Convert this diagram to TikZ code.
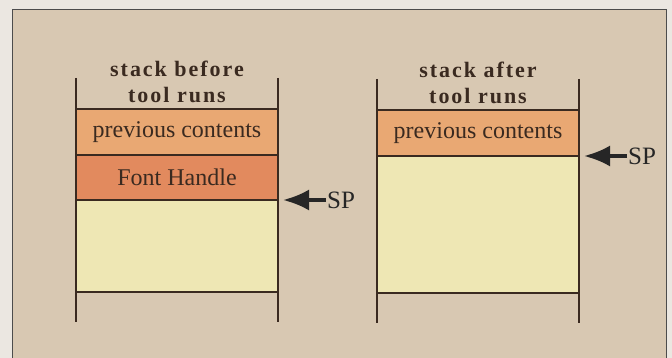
\documentclass[tikz,border=0pt]{standalone}
\usepackage{fontspec}
\setmainfont{Liberation Serif}
\usetikzlibrary{positioning,arrows.meta}
\definecolor{page}{HTML}{EBE7E1}
\definecolor{panel}{HTML}{D8C8B2}
\definecolor{prevc}{HTML}{E9A873}
\definecolor{handlec}{HTML}{E28A5E}
\definecolor{freec}{HTML}{EEE7B4}
\definecolor{ink}{HTML}{3A2A20}
\tikzset{
	cell/.style = {rectangle, draw=ink, line width=1.2pt, minimum width=202pt,
		outer sep=0pt, inner sep=0pt, text=ink, font=\fontsize{24}{26}\selectfont},
	title/.style = {align=center, inner sep=2pt, text=ink,
		font=\bfseries\fontsize{22}{26}\selectfont\addfontfeatures{LetterSpace=9}},
	wall/.style = {draw=ink, line width=1.2pt},
	sparrow/.style = {-{Latex[length=26pt,width=21pt]}, line width=3.5pt,
		draw=black!85, shorten >=5pt},
	splabel/.style = {inner sep=1pt, text=black!85, font=\fontsize{25}{26}\selectfont},
}
\begin{document}
\begin{tikzpicture}[x=1pt,y=-1pt]
	\fill[page] (0,0) rectangle (672,358);
	\useasboundingbox (0,0) rectangle (672,358);
	\filldraw[fill=panel, draw=black!70, line width=1pt] (12,362) -- (12,10) -- (666,10) -- (666,362);
	% stack before the tool runs
	\node (prevA) [cell, fill=prevc, minimum height=46pt, anchor=north] at (177,109) {previous contents};
	\node (fontA) [cell, fill=handlec, minimum height=45pt, below=0pt of prevA] {Font Handle};
	\node (freeA) [cell, fill=freec, minimum height=92pt, below=0pt of fontA] {};
	\node (titleA) [title, above=4pt of prevA] {stack before\\tool runs};
	\draw[wall] ([yshift=31pt]prevA.north west) -- ([yshift=-30pt]freeA.south west);
	\draw[wall] ([yshift=31pt]prevA.north east) -- ([yshift=-30pt]freeA.south east);
	\node (spA) [splabel, right=48pt of fontA.south east, anchor=west] {SP};
	\draw[sparrow] (spA) -- (fontA.south east);
	% stack after the tool runs
	\node (prevB) [cell, fill=prevc, minimum height=46pt, anchor=north] at (478,110) {previous contents};
	\node (freeB) [cell, fill=freec, minimum height=137pt, below=0pt of prevB] {};
	\node (titleB) [title, above=4pt of prevB] {stack after\\tool runs};
	\draw[wall] ([yshift=31pt]prevB.north west) -- ([yshift=-30pt]freeB.south west);
	\draw[wall] ([yshift=31pt]prevB.north east) -- ([yshift=-30pt]freeB.south east);
	\node (spB) [splabel, right=48pt of prevB.south east, anchor=west] {SP};
	\draw[sparrow] (spB) -- (prevB.south east);
\end{tikzpicture}
\end{document}
